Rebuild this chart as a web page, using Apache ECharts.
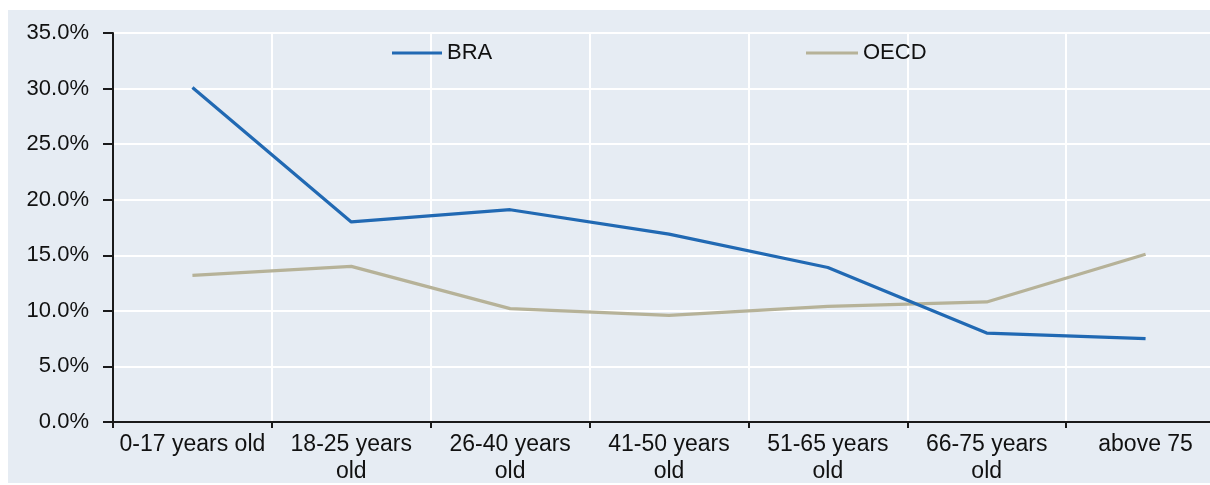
<!DOCTYPE html>
<html><head><meta charset="utf-8">
<script src="https://cdn.jsdelivr.net/npm/echarts@6/dist/echarts.min.js"></script>
<style>
html,body{margin:0;padding:0;background:#fff;}
#wrap{position:relative;width:1210px;height:485px;overflow:hidden;}
#bg{position:absolute;left:8px;top:10px;width:1202px;height:473px;background:#e6ecf3;}
#chart{position:absolute;left:0;top:0;width:1240px;height:485px;}
</style></head>
<body>
<div id="wrap"><div id="bg"></div><div id="chart"></div></div>
<script>
const categories = ['0-17 years old','18-25 years\nold','26-40 years\nold','41-50 years\nold','51-65 years\nold','66-75 years\nold','above 75'];
const braValues = [30.1, 18.0, 19.1, 16.9, 13.9, 8.0, 7.5];
const oecdValues = [13.2, 14.0, 10.2, 9.6, 10.4, 10.8, 15.1];
const yTicks = {min: 0, max: 35, interval: 5};

const chart = echarts.init(document.getElementById('chart'), null, {renderer: 'canvas'});
const font = 'Liberation Sans, Arial, sans-serif';
chart.setOption({
  animation: false,
  grid: {left: 113, top: 33, bottom: 59, right: 15, containLabel: false},
  legend: [
    {data: ['BRA'], left: 392, top: 42, padding: 0, icon: 'rect', itemWidth: 50, itemHeight: 3, itemGap: 4,
     textStyle: {fontFamily: font, fontSize: 22, color: '#111'}},
    {data: ['OECD'], left: 806, top: 42, padding: 0, icon: 'rect', itemWidth: 52, itemHeight: 3, itemGap: 4,
     textStyle: {fontFamily: font, fontSize: 22, color: '#111'}}
  ],
  xAxis: {
    type: 'category', data: categories, boundaryGap: true,
    axisLine: {lineStyle: {color: '#1a1a1a', width: 2}},
    axisTick: {show: true, length: 6, lineStyle: {color: '#1a1a1a', width: 2}},
    axisLabel: {fontFamily: font, fontSize: 23, color: '#111', lineHeight: 27, margin: 9, interval: 0},
    splitLine: {show: true, lineStyle: {color: '#ffffff', width: 2}}
  },
  yAxis: {
    type: 'value', min: yTicks.min, max: yTicks.max, interval: yTicks.interval,
    axisLine: {show: true, lineStyle: {color: '#1a1a1a', width: 2}},
    axisTick: {show: true, length: 10, lineStyle: {color: '#1a1a1a', width: 2}},
    axisLabel: {fontFamily: font, fontSize: 22, color: '#111', margin: 24,
      formatter: v => v.toFixed(1) + '%'},
    splitLine: {show: true, lineStyle: {color: '#ffffff', width: 2}}
  },
  series: [
    {name: 'BRA', type: 'line', data: braValues, symbol: 'none',
     lineStyle: {color: '#2169b3', width: 3.2}, itemStyle: {color: '#2169b3'}, z: 3},
    {name: 'OECD', type: 'line', data: oecdValues, symbol: 'none',
     lineStyle: {color: '#b6b298', width: 3.2}, itemStyle: {color: '#b6b298'}, z: 2}
  ]
});
</script>
</body></html>
